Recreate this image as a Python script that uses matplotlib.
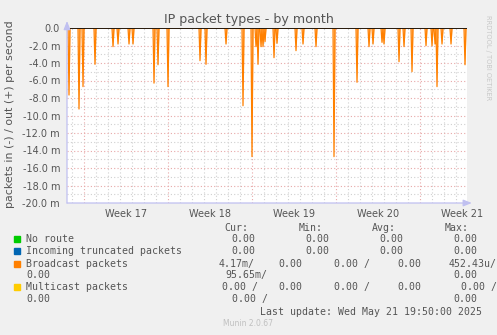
"""Munin style graph: IP packet types - by month."""

import datetime as dt

import matplotlib

matplotlib.use("Agg")
import matplotlib.dates as mdates
import matplotlib.pyplot as plt
import numpy as np
from matplotlib.patches import Rectangle
from matplotlib.ticker import FuncFormatter, MultipleLocator

# broadcast packets received (shown as negative), values in milli packets/s
spike_times = [
    "2025-04-18 18:00", "2025-04-19 14:00", "2025-04-19 22:00", "2025-04-20 22:00",
    "2025-04-22 10:00", "2025-04-22 20:00", "2025-04-23 18:00", "2025-04-24 02:00",
    "2025-04-25 20:00", "2025-04-26 04:00", "2025-04-27 00:00", "2025-04-29 16:00",
    "2025-04-30 04:00", "2025-05-01 20:00", "2025-05-03 06:00", "2025-05-04 00:00",
    "2025-05-04 08:00", "2025-05-04 12:00", "2025-05-04 18:00", "2025-05-04 22:00",
    "2025-05-05 02:00", "2025-05-05 20:00", "2025-05-06 02:00", "2025-05-07 16:00",
    "2025-05-08 06:00", "2025-05-09 08:00", "2025-05-10 20:00", "2025-05-12 18:00",
    "2025-05-13 18:00", "2025-05-14 02:00", "2025-05-14 20:00", "2025-05-15 00:00",
    "2025-05-16 06:00", "2025-05-16 16:00", "2025-05-17 08:00", "2025-05-18 12:00",
    "2025-05-19 00:00", "2025-05-19 06:00", "2025-05-19 10:00", "2025-05-19 20:00",
    "2025-05-20 14:00", "2025-05-21 18:00",
]
spike_vals = [
    -7.66, -9.26, -6.7, -4.15,
    -2.13, -1.83, -1.83, -1.83,
    -6.3, -4.2, -6.7, -3.73,
    -4.15, -1.83, -8.88, -14.7,
    -2.13, -4.15, -2.13, -2.13,
    -1.56, -3.39, -1.75, -2.59,
    -1.83, -2.13, -14.7, -6.2,
    -2.13, -1.83, -1.64, -1.83,
    -3.85, -2.13, -4.99, -2.02,
    -2.02, -1.83, -6.7, -1.83,
    -1.83, -4.2,
]

week_labels = ["Week 17", "Week 18", "Week 19", "Week 20", "Week 21"]
week_starts = ["2025-04-20", "2025-04-27", "2025-05-04", "2025-05-11", "2025-05-18"]

legend_names = ["No route", "Incoming truncated packets", "Broadcast packets", "Multicast packets"]
legend_colors = ["#00cc00", "#0066b3", "#ff8000", "#ffcc00"]

W, H = 497, 335
fig = plt.figure(figsize=(W / 100, H / 100), dpi=100, facecolor="#f0f0f0")
TXT = "#555555"


def fx(x):
    return x / W


def fy(y):
    return 1 - y / H


# plot area in pixels: x 67..467, y 28..203
ax = fig.add_axes([fx(67), fy(203), fx(467) - fx(67), fy(28) - fy(203)])
ax.set_facecolor("white")

t_end = dt.datetime(2025, 5, 21, 22, 0)
t_start = t_end - dt.timedelta(hours=800)
grid_t = [t_start + dt.timedelta(hours=2 * i) for i in range(401)]
series = np.zeros(len(grid_t))
for ts, v in zip(spike_times, spike_vals):
    t = dt.datetime.strptime(ts, "%Y-%m-%d %H:%M")
    series[int(round((t - t_start).total_seconds() / 7200))] = v

# grid: daily / weekly verticals, 1 m / 2 m horizontals
day = t_start.replace(hour=0) + dt.timedelta(days=1)
while day < t_end:
    major = day.strftime("%Y-%m-%d") in week_starts
    ax.axvline(day, color="#e8a8a8" if major else "#d0d0d0", lw=0.8,
               ls=(0, (1, 2)), zorder=0)
    day += dt.timedelta(days=1)
for yv in np.arange(-19, 0, 1.0):
    major = int(yv) % 2 == 0
    ax.axhline(yv, color="#e8a8a8" if major else "#d0d0d0", lw=0.8,
               ls=(0, (1, 2)), zorder=0)

ax.fill_between(grid_t, series, 0, color="#ffb060", lw=0, zorder=2)
ax.plot(grid_t, series, color="#ff8000", lw=0.9, zorder=3)
ax.axhline(0, color="black", lw=1.2, zorder=4)

ax.set_xlim(t_start, t_end)
ax.set_ylim(-20, 0)
ax.yaxis.set_major_locator(MultipleLocator(2))
ax.yaxis.set_major_formatter(FuncFormatter(lambda v, p: "0.0" if abs(v) < 1e-9 else f"{v:.1f} m"))

mids = [mdates.date2num(dt.datetime.strptime(d, "%Y-%m-%d") + dt.timedelta(days=3.5))
        for d in week_starts]
ax.set_xticks(mids)
ax.set_xticklabels(week_labels)
ax.tick_params(length=0, labelsize=7, labelcolor=TXT, pad=4)
ax.tick_params(axis="y", pad=5)

for s in ax.spines.values():
    s.set_visible(False)
axis_col = "#c0c0f0"
ax.annotate("", xy=(1.012, 0), xytext=(0, 0), xycoords="axes fraction",
            arrowprops=dict(arrowstyle="-|>,head_length=0.5,head_width=0.2",
                            color=axis_col, lw=0.9, shrinkA=0, shrinkB=0), zorder=5)
ax.annotate("", xy=(0, 1.04), xytext=(0, 0), xycoords="axes fraction",
            arrowprops=dict(arrowstyle="-|>,head_length=0.5,head_width=0.2",
                            color=axis_col, lw=0.9, shrinkA=0, shrinkB=0), zorder=5)

fig.text(fx(249), fy(19), "IP packet types - by month", ha="center", va="center",
         fontsize=9.1, color=TXT)
fig.text(fx(10), fy(114), "packets in (-) / out (+) per second", rotation=90,
         ha="center", va="center", fontsize=7.9, color=TXT)
fig.text(fx(488), fy(15), "RRDTOOL / TOBI OETIKER", rotation=270, ha="center",
         va="top", fontsize=4.8, color="#c8c8c8")

# legend table
mono = dict(family="DejaVu Sans Mono", fontsize=7.1, color=TXT, va="center")
rows_y = [239.3, 251.3, 263.7, 287.3]
for name, col, y in zip(legend_names, legend_colors, rows_y):
    fig.patches.append(Rectangle((fx(14), fy(y + 3)), fx(6), 6 / H, color=col,
                                 transform=fig.transFigure))
    fig.text(fx(26), fy(y), name, ha="left", **mono)

cells = [
    (227.7, 248.5, "Cur:"), (227.7, 323, "Min:"), (227.7, 396, "Avg:"), (227.7, 469, "Max:"),
    (239.3, 255, "0.00"), (239.3, 329.5, "0.00"), (239.3, 403, "0.00"), (239.3, 477, "0.00"),
    (251.3, 255, "0.00"), (251.3, 329.5, "0.00"), (251.3, 403, "0.00"), (251.3, 477, "0.00"),
    (263.7, 255, "4.17m/"), (263.7, 302, "0.00"), (263.7, 370, "0.00 /"),
    (263.7, 421, "0.00"), (263.7, 497, "452.43u/"),
    (275.3, 267.5, "95.65m/"), (275.3, 477, "0.00"),
    (287.3, 258, "0.00 /"), (287.3, 302, "0.00"), (287.3, 370, "0.00 /"),
    (287.3, 421, "0.00"), (287.3, 497, "0.00 /"),
    (299, 267.5, "0.00 /"), (299, 477, "0.00"),
    (311.7, 482.5, "Last update: Wed May 21 19:50:00 2025"),
]
for y, x, s in cells:
    fig.text(fx(x), fy(y), s, ha="right", **mono)
fig.text(fx(26), fy(275.3), "0.00", ha="left", **mono)
fig.text(fx(26), fy(299), "0.00", ha="left", **mono)
fig.text(fx(248), fy(324), "Munin 2.0.67", ha="center", va="center",
         fontsize=5.5, color="#c0c0c0")

fig.savefig("out.png", dpi=100, facecolor=fig.get_facecolor())
